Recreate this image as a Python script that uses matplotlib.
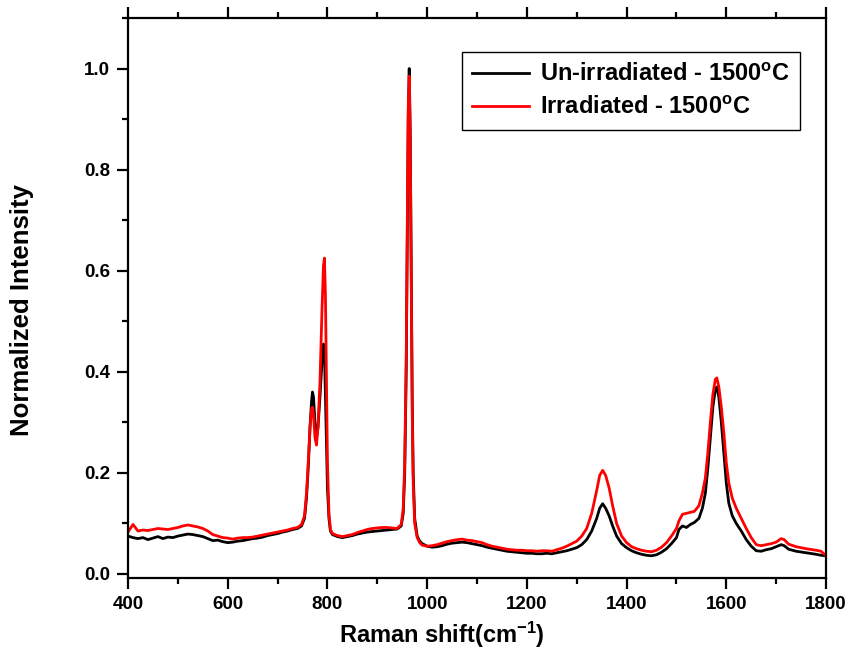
import matplotlib
matplotlib.use("Agg")
import matplotlib.pyplot as plt
from matplotlib.ticker import MultipleLocator, FormatStrFormatter

plt.rcParams['font.family'] = ['Liberation Sans', 'DejaVu Sans']
plt.rcParams['font.weight'] = 'bold'
plt.rcParams['mathtext.fontset'] = 'custom'
plt.rcParams['mathtext.rm'] = 'Liberation Sans:bold'
plt.rcParams['mathtext.it'] = 'Liberation Sans:bold'
plt.rcParams['mathtext.bf'] = 'Liberation Sans:bold'

raman_shift = (
    list(range(400, 750, 10))
    + [748, 754, 758, 762, 765, 768, 770, 772, 775, 778, 781, 785, 789, 792, 794, 796, 798, 800, 803, 806]
    + list(range(810, 950, 10))
    + [948, 952, 955, 958, 960, 962, 964, 966, 968, 970, 972, 975, 980, 985, 990]
    + list(range(1000, 1340, 10))
    + [1340, 1346, 1352, 1358, 1365, 1372, 1380, 1390]
    + list(range(1400, 1510, 10))
    + [1505, 1512, 1520, 1528, 1536, 1545, 1552, 1558, 1563, 1568, 1573, 1578, 1581, 1585, 1590, 1595, 1600, 1605, 1612, 1620]
    + list(range(1630, 1720, 10))
    + [1716, 1725, 1740, 1760, 1780, 1790, 1800]
)

unirradiated = (
    [.075, .072, .070, .072, .068, .071, .074, .070, .073, .072, .075, .077, .079, .078, .076, .074, .070, .066,
     .067, .064, .062, .063, .065, .066, .068, .070, .071, .073, .076, .078, .080, .083, .085, .088, .090]
    + [.095, .11, .15, .22, .29, .34, .36, .35, .30, .27, .29, .35, .42, .455, .44, .35, .25, .17, .11, .085]
    + [.078, .074, .072, .074, .076, .079, .081, .083, .084, .085, .086, .087, .088, .089]
    + [.095, .12, .2, .4, .65, .9, 1.0, .88, .6, .35, .2, .11, .075, .065, .06]
    + [.055, .053, .054, .056, .059, .061, .062, .063, .062, .060, .058, .056, .053, .051, .049, .047, .045,
       .044, .043, .042, .041, .041, .040, .040, .041, .040, .042, .044, .046, .049, .052, .058, .068, .085]
    + [.11, .13, .139, .13, .115, .095, .075, .06]
    + [.052, .046, .042, .039, .037, .036, .038, .043, .05, .06, .072]
    + [.088, .095, .092, .098, .102, .11, .13, .16, .21, .27, .33, .365, .37, .35, .3, .24, .18, .14, .115, .1]
    + [.085, .068, .055, .046, .045, .048, .05, .054, .058]
    + [.056, .049, .045, .042, .039, .037, .036]
)

irradiated = (
    [.083, .098, .085, .087, .086, .088, .090, .089, .088, .090, .092, .095, .097, .095, .093, .090, .085, .078,
     .075, .072, .071, .069, .071, .072, .072, .073, .075, .077, .079, .081, .083, .085, .087, .090, .092]
    + [.098, .115, .16, .23, .29, .325, .33, .315, .27, .255, .29, .38, .52, .61, .625, .55, .38, .22, .12, .088]
    + [.08, .076, .074, .076, .078, .082, .085, .088, .09, .091, .092, .092, .091, .09]
    + [.098, .13, .22, .43, .68, .92, .985, .86, .58, .32, .18, .10, .072, .062, .057]
    + [.055, .056, .058, .061, .064, .066, .068, .069, .067, .066, .064, .062, .058, .055, .053, .051, .049,
       .048, .047, .047, .046, .046, .045, .046, .046, .045, .048, .051, .055, .06, .065, .075, .09, .12]
    + [.165, .195, .205, .195, .17, .135, .1, .075]
    + [.062, .054, .05, .047, .045, .044, .047, .053, .062, .075, .09]
    + [.105, .118, .12, .122, .124, .135, .16, .19, .24, .3, .355, .385, .388, .37, .33, .28, .22, .18, .15, .13]
    + [.11, .09, .072, .058, .056, .058, .06, .063, .07]
    + [.068, .059, .054, .05, .047, .045, .036]
)

labels = ['Un-irradiated - 1500$^{\\mathrm{o}}$C', 'Irradiated - 1500$^{\\mathrm{o}}$C']

fig = plt.figure(figsize=(8.5, 6.57), dpi=100)
ax = fig.add_axes([0.1506, 0.1202, 0.8212, 0.8524])

ax.plot(raman_shift, unirradiated, color='black', lw=2.0, label=labels[0])
ax.plot(raman_shift, irradiated, color='#ff0000', lw=2.0, label=labels[1])

ax.set_xlim(400, 1800)
ax.set_ylim(-0.008, 1.1)
ax.xaxis.set_major_locator(MultipleLocator(200))
ax.xaxis.set_minor_locator(MultipleLocator(100))
ax.yaxis.set_major_locator(MultipleLocator(0.2))
ax.yaxis.set_minor_locator(MultipleLocator(0.1))
ax.yaxis.set_major_formatter(FormatStrFormatter('%.1f'))

for s in ax.spines.values():
    s.set_linewidth(1.6)
ax.tick_params(which='both', direction='out', top=True, right=False, width=1.6)
ax.tick_params(which='major', length=8, labelsize=13.5, pad=5)
ax.tick_params(which='minor', length=4)
for lab in ax.get_xticklabels() + ax.get_yticklabels():
    lab.set_fontweight('bold')

ax.set_xlabel('Raman shift(cm$^{-1}$)', fontsize=17, fontweight='bold', labelpad=5)
ax.set_ylabel('Normalized Intensity', fontsize=18.5, fontweight='bold', labelpad=36)
ax.xaxis.label.set_x(0.45)
ax.yaxis.label.set_y(0.479)

leg = ax.legend(loc='upper right', bbox_to_anchor=(0.963, 0.939), borderaxespad=0,
                fancybox=False, edgecolor='black', framealpha=1, handlelength=2.4,
                prop={'weight': 'bold', 'size': 17}, borderpad=0.45, labelspacing=0.45,
                handletextpad=0.45)
leg.get_frame().set_linewidth(1.0)

fig.savefig('out.png', dpi=100)
